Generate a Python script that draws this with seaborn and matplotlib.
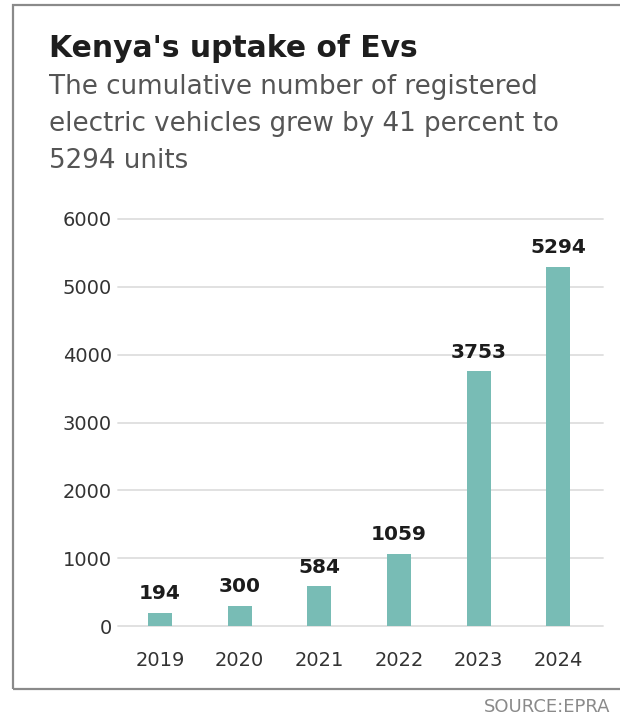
import matplotlib
matplotlib.use("Agg")
import matplotlib.pyplot as plt
from matplotlib.patches import Rectangle
import seaborn as sns
import pandas as pd

# Registered electric vehicles in Kenya (cumulative)
years = ["2019", "2020", "2021", "2022", "2023", "2024"]
units = [194, 300, 584, 1059, 3753, 5294]
y_ticks = [0, 1000, 2000, 3000, 4000, 5000, 6000]

title = "Kenya's uptake of Evs"
subtitle_lines = [
    "The cumulative number of registered",
    "electric vehicles grew by 41 percent to",
    "5294 units",
]
source = "SOURCE:EPRA"

BAR = "#78bcb5"
GRID = "#dedede"

sns.set_theme(style="white")
plt.rcParams["font.family"] = ["DejaVu Sans"]

df = pd.DataFrame({"year": years, "units": units})

fig = plt.figure(figsize=(6.2, 7.18), dpi=100)
W, H = 620, 718

def fx(px):
    return px / W

def fy(py):
    return 1 - py / H

# Outer frame (runs off the right edge)
fig.patches.append(Rectangle((fx(13), fy(689)), fx(700) - fx(13), fy(5) - fy(689),
                             transform=fig.transFigure, fill=False,
                             edgecolor="#8a8a8a", linewidth=1.6))

ax = fig.add_axes([fx(118), fy(626), fx(603) - fx(118), fy(219) - fy(626)])

sns.barplot(data=df, x="year", y="units", color=BAR, width=0.3,
            saturation=1, linewidth=0, ax=ax, zorder=3)

ax.set_ylim(0, 6000)
ax.set_xlim(-0.525, 5.56)
ax.set_yticks(y_ticks)
ax.set_yticklabels([str(t) for t in y_ticks])
for t in y_ticks:
    ax.axhline(t, color=GRID, lw=1.3, zorder=1, clip_on=False)

ax.set_xlabel("")
ax.set_ylabel("")
for s in ax.spines.values():
    s.set_visible(False)
ax.tick_params(axis="y", length=0, pad=4.5, labelsize=14, labelcolor="#333333")
ax.tick_params(axis="x", length=0, pad=18, labelsize=14, labelcolor="#333333")

ax.bar_label(ax.containers[0], labels=[str(v) for v in units], padding=7,
             fontsize=14.5, fontweight="bold", color="#1c1c1c")

fig.text(fx(49), fy(57), title, fontsize=21.4, fontweight="bold",
         color="#1e1e1e", va="baseline", ha="left")
for i, line in enumerate(subtitle_lines):
    fig.text(fx(49), fy(94 + 37 * i), line, fontsize=18.8, color="#555555",
             va="baseline", ha="left")

fig.text(fx(484), fy(707), source, fontsize=13, color="#8a8a8a",
         va="center", ha="left")

fig.savefig("out.png", dpi=100)
